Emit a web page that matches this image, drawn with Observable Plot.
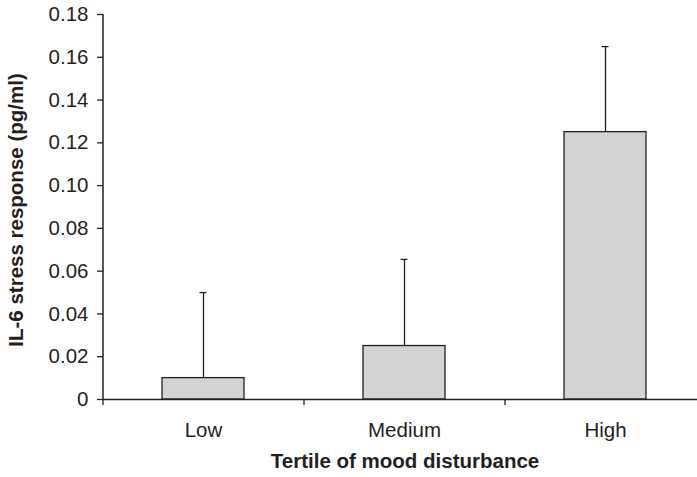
<!DOCTYPE html>
<html>
<head>
<meta charset="utf-8">
<script src="https://cdn.jsdelivr.net/npm/d3@7"></script>
<script src="https://cdn.jsdelivr.net/npm/@observablehq/plot@0.6"></script>
<style>
  html, body { margin: 0; padding: 0; background: #fff; }
  #chart svg { display: block; }
</style>
</head>
<body>
<div id="chart"></div>
<script>
const categories = ["Low", "Medium", "High"];
const values = [0.01, 0.025, 0.125];
const errors = [0.04, 0.0405, 0.04];
const yTicks = [0, 0.02, 0.04, 0.06, 0.08, 0.10, 0.12, 0.14, 0.16, 0.18];
const xTitle = "Tertile of mood disturbance";
const yTitle = "IL-6 stress response (pg/ml)";

const data = categories.map((c, i) => ({cat: c, value: values[i], upper: values[i] + errors[i]}));

const W = 697, H = 477;
const mL = 103, mR = -9, mT = 14, mB = 78;
const step = (W - mR - mL) / categories.length;
const ink = "#231f20";
const font = "Liberation Sans, Arial, Helvetica, sans-serif";

const plot = Plot.plot({
  width: W,
  height: H,
  marginLeft: mL,
  marginRight: mR,
  marginTop: mT,
  marginBottom: mB,
  style: {fontFamily: font, color: ink, background: "#fff"},
  x: {type: "band", domain: categories, paddingInner: 0.59, paddingOuter: 0.295},
  y: {domain: [0, 0.18]},
  marks: [
    Plot.barY(data, {x: "cat", y: "value", fill: "#d2d3d5", stroke: ink, strokeWidth: 1.3}),
    Plot.ruleX(data, {x: "cat", y1: "value", y2: "upper", stroke: ink, strokeWidth: 1.3}),
    Plot.tickY(data, {x: "cat", y: "upper", stroke: ink, strokeWidth: 1.3, insetLeft: 37.5, insetRight: 37.5}),
    Plot.ruleX([categories[0]], {x: d => d, y1: 0, y2: 0.18, dx: -step / 2, stroke: ink, strokeWidth: 1.5}),
    Plot.ruleY([0], {stroke: ink, strokeWidth: 1.5}),
    Plot.axisY({ticks: yTicks, tickSize: 6, tickPadding: 9, tickFormat: d => d === 0 ? "0" : d.toFixed(2), fontSize: 20.5, label: null, stroke: ink, strokeWidth: 1.3}),
    Plot.axisX({tickSize: 6, tickFormat: () => "", dx: -step / 2, label: null, stroke: ink, strokeWidth: 1.3}),
    Plot.axisX({tickSize: 0, tickPadding: 23, fontSize: 20.5, label: null}),
    Plot.text([xTitle], {frameAnchor: "bottom", dy: 68, text: d => d, fontSize: 20.5, fontWeight: "bold", fill: ink}),
    Plot.text([yTitle], {frameAnchor: "left", dx: -87, dy: 3, rotate: -90, textAnchor: "middle", text: d => d, fontSize: 20.5, fontWeight: "bold", fill: ink})
  ]
});
document.getElementById("chart").appendChild(plot);
</script>
</body>
</html>
